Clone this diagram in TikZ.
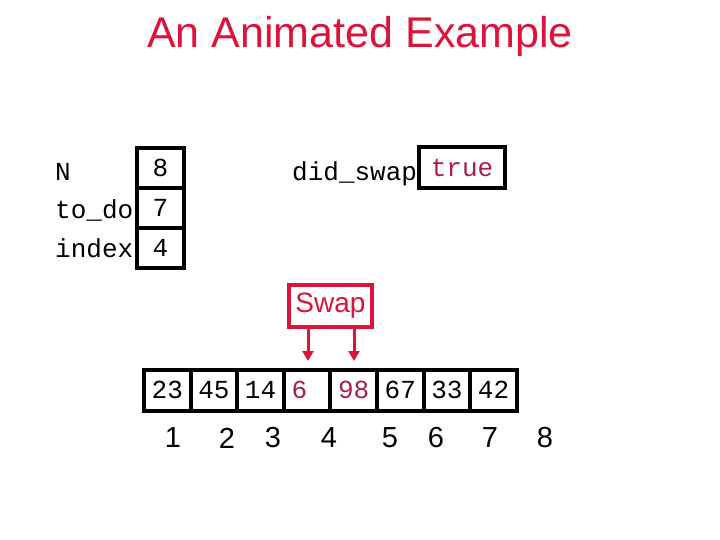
\documentclass[tikz,border=0pt]{standalone}
\usepackage{fontspec}
\setmainfont{Liberation Sans}
\setmonofont{Liberation Mono}
\usetikzlibrary{arrows.meta}
\definecolor{tred}{RGB}{220,20,60}
\definecolor{vred}{RGB}{170,30,70}
\tikzset{
  cell/.style={draw=black,line width=4pt,minimum width=46.6pt,minimum height=41pt,inner sep=0pt,outer sep=0pt},
  var/.style={draw=black,line width=4pt,minimum width=47pt,minimum height=40pt,inner sep=0pt,outer sep=0pt},
  mono/.style={font=\fontsize{26}{26}\selectfont\ttfamily},
  idx/.style={font=\fontsize{29}{29}\selectfont},
  lab/.style={mono,anchor=west,inner sep=0pt},
  arr/.style={draw=tred,line width=3pt,-{Triangle[length=10pt,width=11pt]}}
}
\begin{document}
\begin{tikzpicture}[x=1pt,y=-1pt]
\useasboundingbox (0,0) rectangle (720,540);
\node[text=tred,font=\fontsize{43}{43}\selectfont] (title) at (360,36) {An Animated Example};
% variables
\node[lab] (lN) at (55,172) {N};
\node[lab] (lT) at (55,210) {to\_do};
\node[lab] (lI) at (55,248) {index};
\node[var,mono] (vN) at (160.5,168) {8};
\node[var,mono] (vT) at (160.5,208) {7};
\node[var,mono] (vI) at (160.5,248) {4};
\node[lab] (lD) at (292,174) {did\_swap};
\node[var,mono,text=vred,minimum width=86pt,minimum height=41pt] (vD) at (462,168) {true};
% swap
\node[draw=tred,line width=3.5pt,text=tred,font=\fontsize{28}{28}\selectfont,minimum width=83pt,minimum height=42pt,inner sep=0pt] (swap) at (330.5,306) {Swap};
\coordinate (a1) at (308,361);
\coordinate (a2) at (354,361);
\draw[arr] (swap.south -| a1) -- (a1);
\draw[arr] (swap.south -| a2) -- (a2);
% array
\foreach \v/\c [count=\i] in {23/black,45/black,14/black,6\phantom{0}/vred,98/vred,67/black,33/black,42/black}{
  \node[cell,mono,text=\c] (c\i) at ({144+46.6*(\i-0.5)},390) {\v\vphantom{0}};
}
\foreach \x [count=\i] in {173,227,273,329,390,436,490,545}{
  \node[idx] (n\i) at (\x,438) {\i};
}
\end{tikzpicture}
\end{document}
